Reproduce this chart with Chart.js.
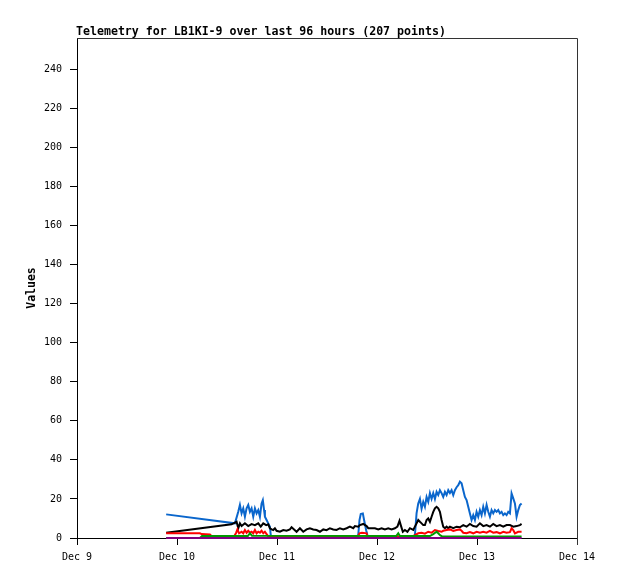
<!DOCTYPE html>
<html>
<head>
<meta charset="utf-8">
<title>Telemetry LB1KI-9</title>
<script src="https://cdn.jsdelivr.net/npm/chart.js@4/dist/chart.umd.min.js"></script>
<style>
  html, body { margin: 0; padding: 0; background: #fff; }
  #telemetryChart { display: block; }
</style>
</head>
<body>
<canvas id="telemetryChart" width="618" height="579"></canvas>
<script>
// hours since Dec 9 00:00, value
const blueSeries = [
  [21.4, 12.1], [37.9, 7.5], [38.7, 13.4], [39.1, 16.9], [39.5, 12.6], [39.9, 15.2],
  [40.3, 10.9], [40.7, 15.2], [41.1, 16.9], [41.5, 13.4], [41.9, 15.2], [42.3, 10.9],
  [42.7, 15.2], [43.1, 12.6], [43.5, 14.3], [43.9, 10.9], [44.3, 17.7], [44.6, 19.4],
  [44.9, 14.3], [45.1, 10.9], [45.5, 9.2], [45.9, 7.5], [46.3, 5.8], [46.5, 1.5],
  [46.8, 0.6], [67.0, 0.6], [67.5, 1.5], [67.8, 9.2], [68.1, 12.3], [68.6, 12.6],
  [68.9, 9.2], [69.4, 4], [69.7, 1.5], [69.9, 0.6], [80.6, 0.6], [81.1, 1.5],
  [81.5, 12.8], [81.9, 17.7], [82.3, 20], [82.7, 15], [83.1, 18.5], [83.5, 16],
  [83.9, 21], [84.3, 18.5], [84.7, 23], [85.1, 20], [85.5, 23], [85.9, 20],
  [86.3, 23.6], [86.7, 22], [87.1, 24.5], [87.5, 23], [87.9, 21], [88.3, 23.6],
  [88.7, 22], [89.1, 24.5], [89.5, 23], [89.9, 24.5], [90.3, 22], [90.7, 24.5],
  [91.1, 26], [91.5, 27], [91.9, 28.8], [92.3, 28], [92.7, 24.5], [93.1, 21],
  [93.5, 19.4], [93.9, 16], [94.3, 12.6], [94.7, 9.2], [95.1, 11.7], [95.5, 9.2],
  [95.9, 13.4], [96.3, 10.9], [96.7, 14.3], [97.1, 11.7], [97.5, 16], [97.9, 12.6],
  [98.3, 16.9], [98.7, 13.4], [99.1, 10.9], [99.5, 14.3], [99.9, 12.6], [100.3, 14.3],
  [100.7, 13.4], [101.1, 14.3], [101.5, 12.6], [101.9, 13.4], [102.3, 11.7], [102.7, 12.6],
  [103.1, 11.7], [103.5, 13.4], [103.9, 12.6], [104.3, 22.8], [104.7, 20.3], [105.1, 17.7],
  [105.5, 10.9], [105.9, 14.3], [106.3, 16.9], [106.7, 17.7]
];

const blackSeries = [
  [21.4, 2.7], [37.1, 7], [38.3, 8.3], [38.7, 5], [39.1, 7.5], [39.5, 6.1],
  [40.3, 7.5], [41.1, 6.1], [41.9, 7.1], [42.7, 6.6], [43.5, 7.5], [44.1, 5.8],
  [44.7, 7.5], [45.4, 6.6], [45.9, 7], [46.3, 5], [46.7, 4.4], [47.1, 4.1],
  [47.5, 5], [47.9, 3.7], [48.7, 3.2], [49.5, 4.1], [50.3, 3.7], [51.1, 4.4],
  [51.5, 5.5], [52.1, 4.4], [52.7, 3.2], [53.5, 5], [54.3, 3.2], [55.1, 4.4],
  [55.9, 5], [56.7, 4.4], [57.5, 4.1], [58.3, 3.2], [59.1, 4.4], [59.9, 4],
  [60.7, 5], [61.5, 4.4], [62.3, 4.1], [63.1, 5], [63.9, 4.4], [64.7, 5],
  [65.5, 5.8], [66.3, 5], [66.7, 6.1], [67.5, 5.8], [67.9, 6.6], [68.7, 7.2],
  [69.5, 6.1], [69.9, 5], [70.7, 5], [71.5, 5], [72.3, 4.4], [73.1, 5],
  [73.9, 4.4], [74.7, 5], [75.5, 4.4], [76.3, 5], [76.9, 5.8], [77.4, 8.8],
  [77.7, 6.6], [78.2, 3.2], [78.7, 4.1], [79.3, 3.2], [79.9, 5], [80.7, 4.1],
  [81.1, 5.8], [81.5, 7.5], [81.9, 9.2], [82.3, 8.3], [82.7, 7.5], [83.1, 6.6],
  [83.5, 6.6], [83.9, 9.2], [84.3, 10], [84.7, 8.3], [85.1, 10.9], [85.5, 13.4],
  [85.9, 15.2], [86.3, 16], [86.7, 15.2], [87.1, 13.4], [87.5, 9.2], [87.9, 5.8],
  [88.3, 5], [88.7, 5.8], [89.1, 5], [89.5, 5.8], [90.3, 5], [91.1, 5.8],
  [91.9, 5.5], [92.7, 6.6], [93.5, 5.8], [94.3, 7.2], [95.1, 6.1], [95.9, 5.8],
  [96.7, 7.5], [97.5, 6.1], [98.3, 6.6], [99.1, 5.8], [99.9, 7.2], [100.7, 6.1],
  [101.5, 6.6], [102.3, 5.8], [103.1, 6.6], [103.9, 6.6], [104.7, 5.8], [105.5, 6.1],
  [106.3, 6.6], [106.7, 7.2]
];

const redSeries = [
  [21.4, 2.4], [29.5, 2.4], [29.9, 2], [31.9, 1.8], [32.4, 0.8], [37.7, 0.8],
  [38.2, 2.7], [38.5, 4.4], [38.9, 2.4], [39.5, 3.2], [39.9, 2.4], [40.3, 4.1],
  [40.7, 2.7], [41.1, 3.7], [41.5, 2.7], [41.9, 3.2], [42.3, 2.4], [42.7, 4.1],
  [43.1, 2.4], [43.5, 3.2], [43.9, 2.7], [44.3, 3.7], [44.7, 2.4], [45.1, 3.2],
  [45.5, 2], [45.9, 0.8], [67.4, 0.8], [67.8, 2.4], [68.4, 2.7], [69.5, 2.4],
  [69.7, 0.8], [80.6, 0.8], [81.1, 1.5], [81.9, 2.4], [82.7, 2.7], [83.5, 2.2],
  [84.3, 3.2], [85.1, 2.7], [85.9, 4.1], [86.7, 3.6], [87.5, 3.2], [87.9, 3.7],
  [88.7, 4.1], [89.5, 4.4], [90.3, 3.6], [91.1, 4.1], [91.9, 4.4], [92.3, 3.7],
  [92.7, 2.7], [93.5, 2.4], [94.3, 3], [95.1, 2.4], [95.9, 3.2], [96.7, 2.7],
  [97.5, 3.2], [98.3, 2.7], [99.1, 3.6], [99.9, 2.7], [100.7, 3], [101.5, 2.4],
  [102.3, 3.2], [103.1, 2.7], [103.9, 3], [104.3, 5], [104.7, 4.1], [105.1, 2.4],
  [105.9, 3.2], [106.7, 3.2]
];

const greenSeries = [
  [21.4, 0], [29.5, 0], [30.0, 1], [41.0, 1], [41.5, 2.4], [42.0, 1.2],
  [76.6, 1], [77.1, 2.4], [77.5, 1], [84.7, 1], [85.5, 2], [86.3, 3.2],
  [86.7, 2.4], [87.1, 1.5], [87.6, 0.8], [106.7, 0.8]
];

const purpleSeries = [
  [21.4, 0], [106.7, 0]
];

const yTickValues = [0, 20, 40, 60, 80, 100, 120, 140, 160, 180, 200, 220, 240];
const xTickHours = [0, 24, 48, 72, 96, 120];
const xTickLabels = ['Dec 9', 'Dec 10', 'Dec 11', 'Dec 12', 'Dec 13', 'Dec 14'];
const chartTitle = 'Telemetry for LB1KI-9 over last 96 hours (207 points)';

const monoFont = "'DejaVu Sans Mono', 'Liberation Mono', monospace";

function toPoints(series) {
  return series.map(p => ({ x: p[0], y: p[1] }));
}

function lineSet(label, series, color) {
  return {
    label: label,
    data: toPoints(series),
    borderColor: color,
    backgroundColor: color,
    borderWidth: 2,
    pointRadius: 0,
    tension: 0,
    fill: false,
    clip: false
  };
}

// title + top/right frame
const framePlugin = {
  id: 'frame',
  afterDraw(chart) {
    const ctx = chart.ctx;
    const a = chart.chartArea;
    ctx.save();
    ctx.strokeStyle = '#333';
    ctx.lineWidth = 1;
    ctx.beginPath();
    ctx.moveTo(a.left, a.top + 0.5);
    ctx.lineTo(a.right + 0.5, a.top + 0.5);
    ctx.lineTo(a.right + 0.5, a.bottom + 7);
    ctx.stroke();
    ctx.fillStyle = '#000';
    ctx.font = 'bold 11.6px ' + monoFont;
    ctx.textBaseline = 'alphabetic';
    ctx.textAlign = 'left';
    ctx.fillText(chartTitle, 76, 35);
    ctx.restore();
  }
};

Chart.defaults.font.family = monoFont;
Chart.defaults.color = '#000';

new Chart(document.getElementById('telemetryChart').getContext('2d'), {
  type: 'line',
  data: {
    datasets: [
      lineSet('Purple', purpleSeries, '#800080'),
      lineSet('Green', greenSeries, '#009900'),
      lineSet('Red', redSeries, '#ff0000'),
      lineSet('Black', blackSeries, '#000000'),
      lineSet('Blue', blueSeries, '#0a66cc')
    ]
  },
  options: {
    responsive: false,
    animation: false,
    layout: { padding: { top: 38, right: 41, bottom: 0, left: 0 } },
    plugins: {
      legend: { display: false },
      tooltip: { enabled: false },
      title: { display: false }
    },
    scales: {
      x: {
        type: 'linear',
        min: 0,
        max: 120,
        afterFit: scale => { scale.height = 41; },
        afterBuildTicks: scale => { scale.ticks = xTickHours.map(v => ({ value: v })); },
        grid: { drawOnChartArea: false, drawTicks: true, tickLength: 7, color: '#000' },
        border: { display: true, color: '#000', width: 1 },
        ticks: {
          autoSkip: false,
          maxRotation: 0,
          padding: 6,
          font: { size: 10 },
          color: '#000',
          callback: (v, i) => xTickLabels[i]
        }
      },
      y: {
        type: 'linear',
        min: 0,
        max: 256,
        afterFit: scale => { scale.width = 77; },
        afterBuildTicks: scale => { scale.ticks = yTickValues.map(v => ({ value: v })); },
        grid: { drawOnChartArea: false, drawTicks: true, tickLength: 7, color: '#000' },
        border: { display: true, color: '#000', width: 1 },
        title: {
          display: true,
          text: 'Values',
          color: '#000',
          font: { size: 11.5, weight: 'bold' },
          padding: { top: 25, bottom: 0 }
        },
        ticks: {
          padding: 8,
          font: { size: 10 },
          color: '#000',
          callback: v => String(v)
        }
      }
    }
  },
  plugins: [framePlugin]
});
</script>
</body>
</html>
